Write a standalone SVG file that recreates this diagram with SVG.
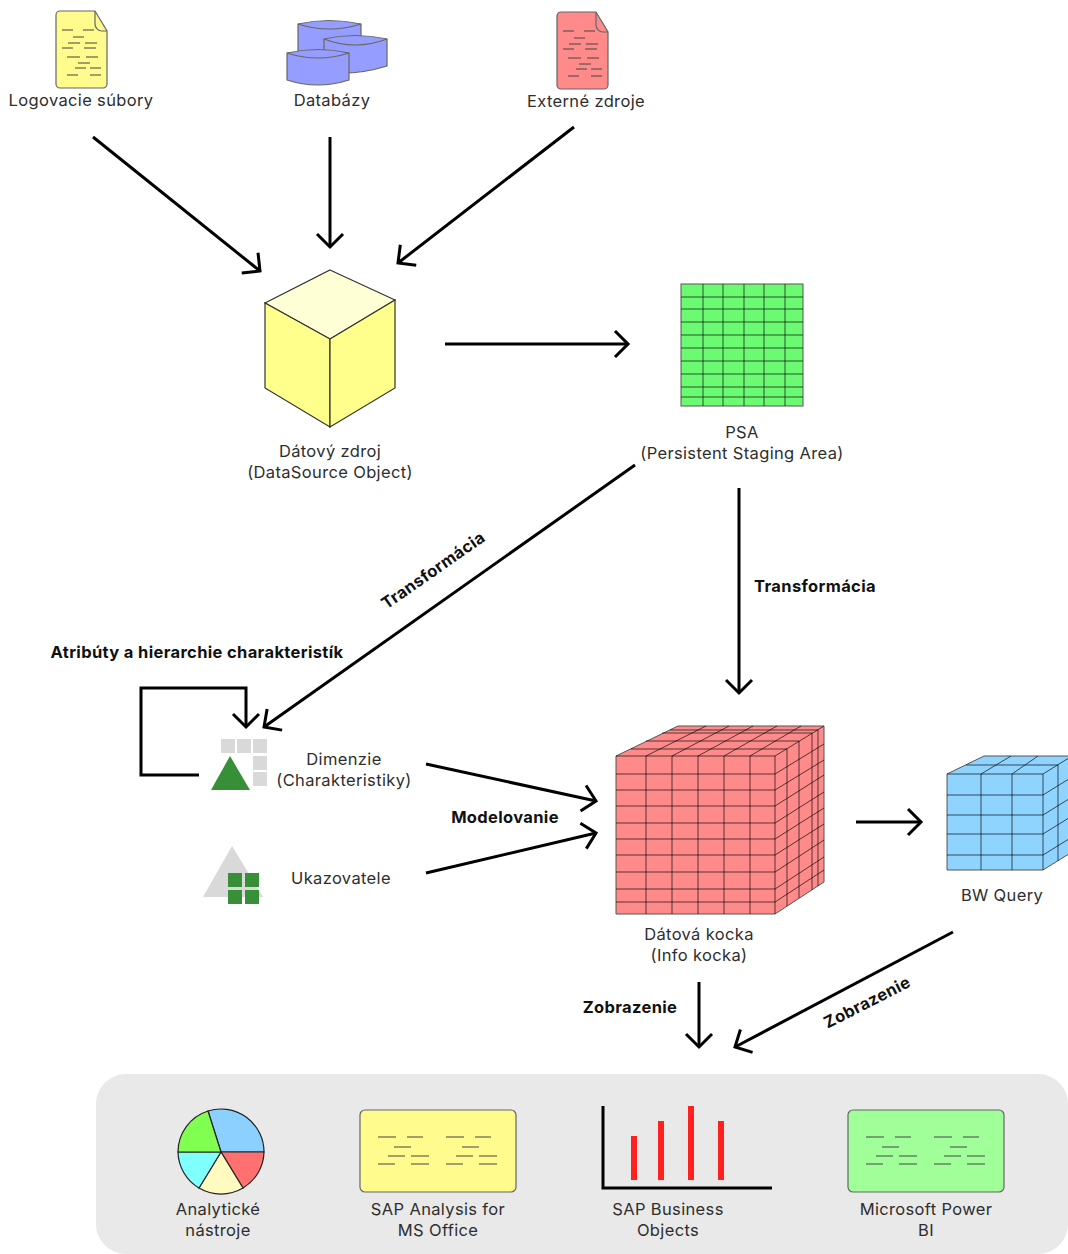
<svg xmlns="http://www.w3.org/2000/svg" xmlns:xlink="http://www.w3.org/1999/xlink" width="1068" height="1254" viewBox="0 0 1068 1254">
<style>
text{font-family:Inter,"Noto Sans","Liberation Sans",sans-serif;font-size:16.5px;letter-spacing:.35px;fill:#2e2e2e;text-anchor:middle}
text.b{font-weight:700;fill:#111}
.c{fill:none;stroke:#000;stroke-width:3}
.o{stroke:#666;stroke-width:1.2}
.g{fill:none;stroke:#000;stroke-width:1;stroke-opacity:.65}
.d{fill:none;stroke:#444;stroke-width:1}
</style>
<defs>
<marker id="a" markerUnits="userSpaceOnUse" markerWidth="40" markerHeight="40" refX="20" refY="20" orient="auto" overflow="visible"><path d="M7,7L20,20L7,33" fill="none" stroke="#000" stroke-width="3"/></marker>
<path id="docd" class="d" d="M62,30h11M83,30h11M73,37h11M68,43h12M85,43h12M62,48h11M84,48h12M67,57h13M86,57h12M78,63h12M75,68h11M90,68h11M67,75h11M90,75h11"/>
<path id="recd" class="d" d="M378,1137h18M407,1137h16M394,1147h17M388,1156h17M411,1156h18M378,1164h17M411,1164h18M446,1137h18M475,1137h16M462,1147h17M456,1156h17M479,1156h18M446,1164h17M479,1164h18"/>
</defs>
<rect id="panel" x="96" y="1074" width="972" height="180" rx="30" fill="#e9e9e9"/>
<g id="logs">
<path class="o" fill="#fffb8c" d="M60,11H95L107,31V84a4,4 0 0 1-4,4H60a4,4 0 0 1-4-4V15a4,4 0 0 1 4-4Z"/>
<path class="o" fill="none" d="M95,11V24a7,7 0 0 0 7,7H107"/>
<use xlink:href="#docd"/>
<text x="81" y="106">Logovacie súbory</text>
</g>
<g id="db">
<path class="o" fill="#959dff" d="M298,24Q329,17 361,24V50H330V62H298Z"/>
<path class="o" fill="none" d="M298,24Q329,34 361,24"/>
<path class="o" fill="#959dff" d="M324,39Q355,32 387,39V66Q355,76 324,72Z"/>
<path class="o" fill="none" d="M324,39Q355,51 387,39"/>
<path class="o" fill="#959dff" d="M287,53Q318,46 349,53V80Q318,90 287,80Z"/>
<path class="o" fill="none" d="M287,53Q318,63 349,53"/>
<text x="332" y="106">Databázy</text>
</g>
<g id="ext">
<path class="o" fill="#ff8a8a" d="M561,12H596L608,32V85a4,4 0 0 1-4,4H561a4,4 0 0 1-4-4V16a4,4 0 0 1 4-4Z"/>
<path class="o" fill="none" d="M596,12V25a7,7 0 0 0 7,7H608"/>
<use xlink:href="#docd" transform="translate(501,1)"/>
<text x="586" y="107">Externé zdroje</text>
</g>
<g id="dso">
<path fill="#ffffd6" stroke="#333" stroke-width="1.2" d="M330,270L395,300L330,339L265,303Z"/>
<path fill="#ffff8c" stroke="#333" stroke-width="1.2" d="M265,303L330,339V427L265,388Z"/>
<path fill="#ffff8c" stroke="#333" stroke-width="1.2" d="M395,300L330,339V427L395,388Z"/>
<text x="330" y="457">Dátový zdroj</text>
<text x="330" y="478">(DataSource Object)</text>
</g>
<g id="psa">
<rect x="681" y="284" width="122" height="122" fill="#6cfa72" stroke="#555"/>
<path class="g" d="M703,284V406M723,284V406M744,284V406M764,284V406M785,284V406M681,297H803M681,309H803M681,322H803M681,335H803M681,348H803M681,361H803M681,374H803M681,387H803M681,397H803"/>
<text x="742" y="438">PSA</text>
<text x="742" y="459">(Persistent Staging Area)</text>
</g>
<g id="dim">
<path fill="#d9d9d9" d="M221,739h14v14h-14ZM237,739h14v14h-14ZM253,739h14v14h-14ZM253,756h14v14h-14ZM253,772h14v14h-14Z"/>
<path fill="#379037" d="M230,756L250,790H211Z"/>
<text x="344" y="765">Dimenzie</text>
<text x="344" y="786">(Charakteristiky)</text>
</g>
<g id="uk">
<path fill="#d9d9d9" d="M232,846L263,897H203Z"/>
<path fill="#379037" d="M228,873h14v14h-14ZM245,873h14v14h-14ZM228,890h14v14h-14ZM245,890h14v14h-14Z"/>
<text x="341" y="884">Ukazovatele</text>
</g>
<g id="cube">
<path fill="#ff8a8a" stroke="#555" d="M616,756L678,726H824V882L775,914H616Z"/>
<path class="g" d="M616,756H775V914M775,756L824,726"/>
<path class="g" d="M646,756V914M672,756V914M698,756V914M724,756V914M750,756V914M616,774H775M616,790H775M616,806H775M616,823H775M616,839H775M616,855H775M616,872H775M616,889H775M616,902H775"/>
<path class="g" d="M787,749V906M799,741V898M812,733V890M818,730V886M775,774L824,744M775,790L824,760M775,806L824,775M775,823L824,792M775,839L824,808M775,855L824,824M775,872L824,840M775,889L824,857M775,902L824,870"/>
<path class="g" d="M646,756L706,726M672,756L729,726M698,756L753,726M724,756L777,726M750,756L801,726M631,749H787M646,741H799M662,733H812M670,730H818"/>
<text x="699" y="940">Dátová kocka</text>
<text x="699" y="961">(Info kocka)</text>
</g>
<g id="bw">
<path fill="#8fd3ff" stroke="#555" d="M947,774L984,756H1072V852L1043,870H947Z"/>
<path class="g" d="M947,774H1043V870M1043,774L1072,756M981,774V870M1012,774V870M947,795H1043M947,815H1043M947,834H1043M947,855H1043"/>
<path class="g" d="M1058,765V861M1043,795L1072,777M1043,815L1072,797M1043,834L1072,816M1043,855L1072,837M981,774L1011,756M1012,774L1038,756M966,765H1058"/>
<text x="1002" y="901">BW Query</text>
</g>
<g id="tools">
<path fill="#8cd0ff" stroke="#222" stroke-width="1.2" d="M221,1152L208,1111A43,43 0 0 1 264,1152Z"/>
<path fill="#ff7070" stroke="#222" stroke-width="1.2" d="M221,1152H264A43,43 0 0 1 243,1188Z"/>
<path fill="#fffbc0" stroke="#222" stroke-width="1.2" d="M221,1152L243,1188A43,43 0 0 1 199,1188Z"/>
<path fill="#80ffff" stroke="#222" stroke-width="1.2" d="M221,1152L199,1188A43,43 0 0 1 178,1152Z"/>
<path fill="#80ff50" stroke="#222" stroke-width="1.2" d="M221,1152H178A43,43 0 0 1 208,1111Z"/>
<text x="218" y="1215">Analytické</text>
<text x="218" y="1236">nástroje</text>
</g>
<g id="sapao">
<rect class="o" x="360" y="1110" width="156" height="82" rx="5" fill="#fffb8c"/>
<use xlink:href="#recd"/>
<text x="438" y="1215">SAP Analysis for</text>
<text x="438" y="1236">MS Office</text>
</g>
<g id="sapbo">
<path fill="none" stroke="#000" stroke-width="3" d="M603,1106V1188H772"/>
<path fill="#ff2020" d="M631,1136h6v44h-6ZM658,1121h6v59h-6ZM688,1106h6v74h-6ZM718,1121h6v59h-6Z"/>
<text x="668" y="1215">SAP Business</text>
<text x="668" y="1236">Objects</text>
</g>
<g id="pbi">
<rect class="o" x="848" y="1110" width="156" height="82" rx="5" fill="#a0ff98"/>
<use xlink:href="#recd" transform="translate(488,0)"/>
<text x="926" y="1215">Microsoft Power</text>
<text x="926" y="1236">BI</text>
</g>
<g id="connectors">
<path class="c" marker-end="url(#a)" d="M93,137L260,271"/>
<path class="c" marker-end="url(#a)" d="M330,137V247"/>
<path class="c" marker-end="url(#a)" d="M574,127L398,263"/>
<path class="c" marker-end="url(#a)" d="M445,344H628"/>
<path class="c" marker-end="url(#a)" d="M635,465L264,727"/>
<path class="c" marker-end="url(#a)" d="M739,488V693"/>
<path class="c" marker-end="url(#a)" d="M199,775H141V688H246V727"/>
<path class="c" marker-end="url(#a)" d="M426,764L596,801"/>
<path class="c" marker-end="url(#a)" d="M426,873L596,833"/>
<path class="c" marker-end="url(#a)" d="M856,822H921"/>
<path class="c" marker-end="url(#a)" d="M699,982V1047"/>
<path class="c" marker-end="url(#a)" d="M953,932L735,1047"/>
</g>
<g id="labels">
<text class="b" x="815" y="592">Transformácia</text>
<text class="b" x="433" y="576" transform="rotate(-35 433 570)">Transformácia</text>
<text class="b" x="197" y="658">Atribúty a hierarchie charakteristík</text>
<text class="b" x="505" y="823">Modelovanie</text>
<text class="b" x="630" y="1013">Zobrazenie</text>
<text class="b" x="867" y="1008" transform="rotate(-27 867 1002)">Zobrazenie</text>
</g>
</svg>
